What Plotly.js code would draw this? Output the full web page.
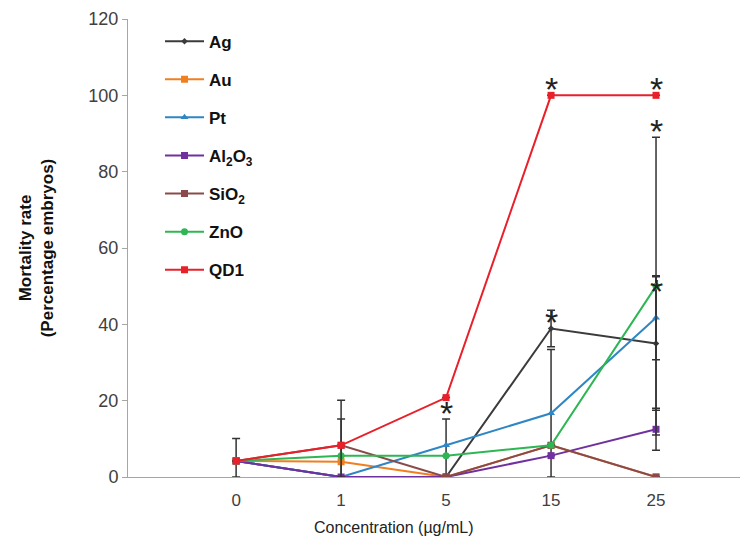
<!DOCTYPE html>
<html>
<head>
<meta charset="utf-8">
<script src="https://cdn.plot.ly/plotly-3.0.1.min.js"></script>
<style>html,body{margin:0;padding:0;background:#fff;}#chart{width:749px;height:537px;}</style>
</head>
<body>
<div id="chart"></div>
<script>
const concentrations = ['0', '1', '5', '15', '25'];
const seriesNames = ['Ag', 'Au', 'Pt', 'Al<sub>2</sub>O<sub>3</sub>', 'SiO<sub>2</sub>', 'ZnO', 'QD1'];
const agValues    = [4.2, 0, 0, 38.9, 35.0];
const auValues    = [4.2, 4.0, 0, 8.3, 0];
const ptValues    = [4.2, 0, 8.3, 16.7, 41.7];
const al2o3Values = [4.2, 0, 0, 5.6, 12.5];
const sio2Values  = [4.2, 8.3, 0, 8.3, 0];
const znoValues   = [4.2, 5.6, 5.6, 8.3, 50.0];
const qd1Values   = [4.2, 8.3, 20.8, 100, 100];
// error bars (plus / minus)
const agErrPlus    = [5.9, 0, 0, 4.8, 17.5];
const agErrMinus   = [4.2, 0, 0, 4.8, 17.5];
const auErrPlus    = [0, 11.2, 0, 0, 0];
const auErrMinus   = [0, 4.0, 0, 0, 0];
const ptErrPlus    = [0, 0, 6.9, 16.7, 11.0];
const ptErrMinus   = [0, 0, 8.3, 16.7, 11.0];
const al2o3ErrPlus = [0, 0, 0, 0, 5.5];
const al2o3ErrMinus= [0, 0, 0, 0, 5.5];
const sio2ErrPlus  = [0, 0, 0, 0, 0];
const sio2ErrMinus = [0, 0, 0, 0, 0];
const znoErrPlus   = [0, 0, 0, 0, 39.0];
const znoErrMinus  = [0, 0, 0, 0, 39.0];
const qd1ErrPlus   = [0, 11.8, 0, 0, 0];
const qd1ErrMinus  = [0, 8.3, 0, 0, 0];
// significance asterisks: category index (0..4 -> '0','1','5','15','25') and y value
const starCategoryIndex = [2, 3, 4, 4, 3, 4];
const starY = [18, 103, 103, 92, 42, 50];

const colors = ['#3b3b3b', '#f07f1f', '#2f86c4', '#7030a0', '#8b4a4a', '#2db653', '#e8202a'];
const symbols = ['diamond', 'square', 'triangle-up', 'square', 'square', 'circle', 'square'];
const sizes = [5, 7, 7, 7, 7, 7, 7];
const vals = [agValues, auValues, ptValues, al2o3Values, sio2Values, znoValues, qd1Values];
const ep = [agErrPlus, auErrPlus, ptErrPlus, al2o3ErrPlus, sio2ErrPlus, znoErrPlus, qd1ErrPlus];
const em = [agErrMinus, auErrMinus, ptErrMinus, al2o3ErrMinus, sio2ErrMinus, znoErrMinus, qd1ErrMinus];
const FONT = 'Liberation Sans, Arial, sans-serif';

const traces = seriesNames.map((n, i) => ({
  type: 'scatter', mode: 'lines+markers', name: n,
  x: concentrations, y: vals[i], legendgroup: 'g' + i,
  line: {color: colors[i], width: 2},
  marker: {color: colors[i], symbol: symbols[i], size: sizes[i]},
  error_y: {type: 'data', symmetric: false, array: ep[i], arrayminus: em[i],
            color: '#333333', thickness: 1.5, width: 4, visible: true}
}));

const annotations = starCategoryIndex.map((x, i) => ({
  x: x, y: starY[i], xref: 'x', yref: 'y', text: '*', showarrow: false,
  font: {family: FONT, size: 34, color: '#222'},
  yanchor: 'middle', yshift: -5
}));
annotations.push({
  text: 'Concentration (µg/mL)', xref: 'paper', yref: 'paper',
  x: (394 - 128) / 612, y: -0.11, yanchor: 'middle', showarrow: false,
  font: {family: FONT, size: 16, color: '#222'}
});

const layout = {
  width: 749, height: 537,
  margin: {l: 128, r: 9, t: 19, b: 60},
  paper_bgcolor: '#fff', plot_bgcolor: '#fff',
  font: {family: FONT, color: '#404040'},
  showlegend: true,
  legend: {x: (160 - 128) / 612, y: 0.99, xanchor: 'left', yanchor: 'top',
           bgcolor: 'rgba(0,0,0,0)', tracegroupgap: 13, itemwidth: 39,
           font: {size: 17, color: '#111', family: FONT, weight: 'bold'}},
  xaxis: {type: 'category', range: [-1.03, 4.8], showgrid: false, zeroline: false,
          showline: true, linecolor: '#a6a6a6', linewidth: 1, ticks: '',
          ticklabelstandoff: 8,
          tickfont: {size: 17, color: '#404040'}, fixedrange: true},
  yaxis: {range: [0, 120], dtick: 20, showgrid: false, zeroline: false,
          showline: true, linecolor: '#a6a6a6', linewidth: 1,
          ticks: 'outside', ticklen: 5, tickcolor: '#a6a6a6',
          tickfont: {size: 18, color: '#404040'},
          title: {text: '<b>Mortality rate</b><br><b>(Percentage embryos)</b>',
                  font: {size: 17, color: '#111'}, standoff: 30}},
  annotations: annotations
};

Plotly.newPlot('chart', traces, layout, {displayModeBar: false, staticPlot: true});
</script>
</body>
</html>
